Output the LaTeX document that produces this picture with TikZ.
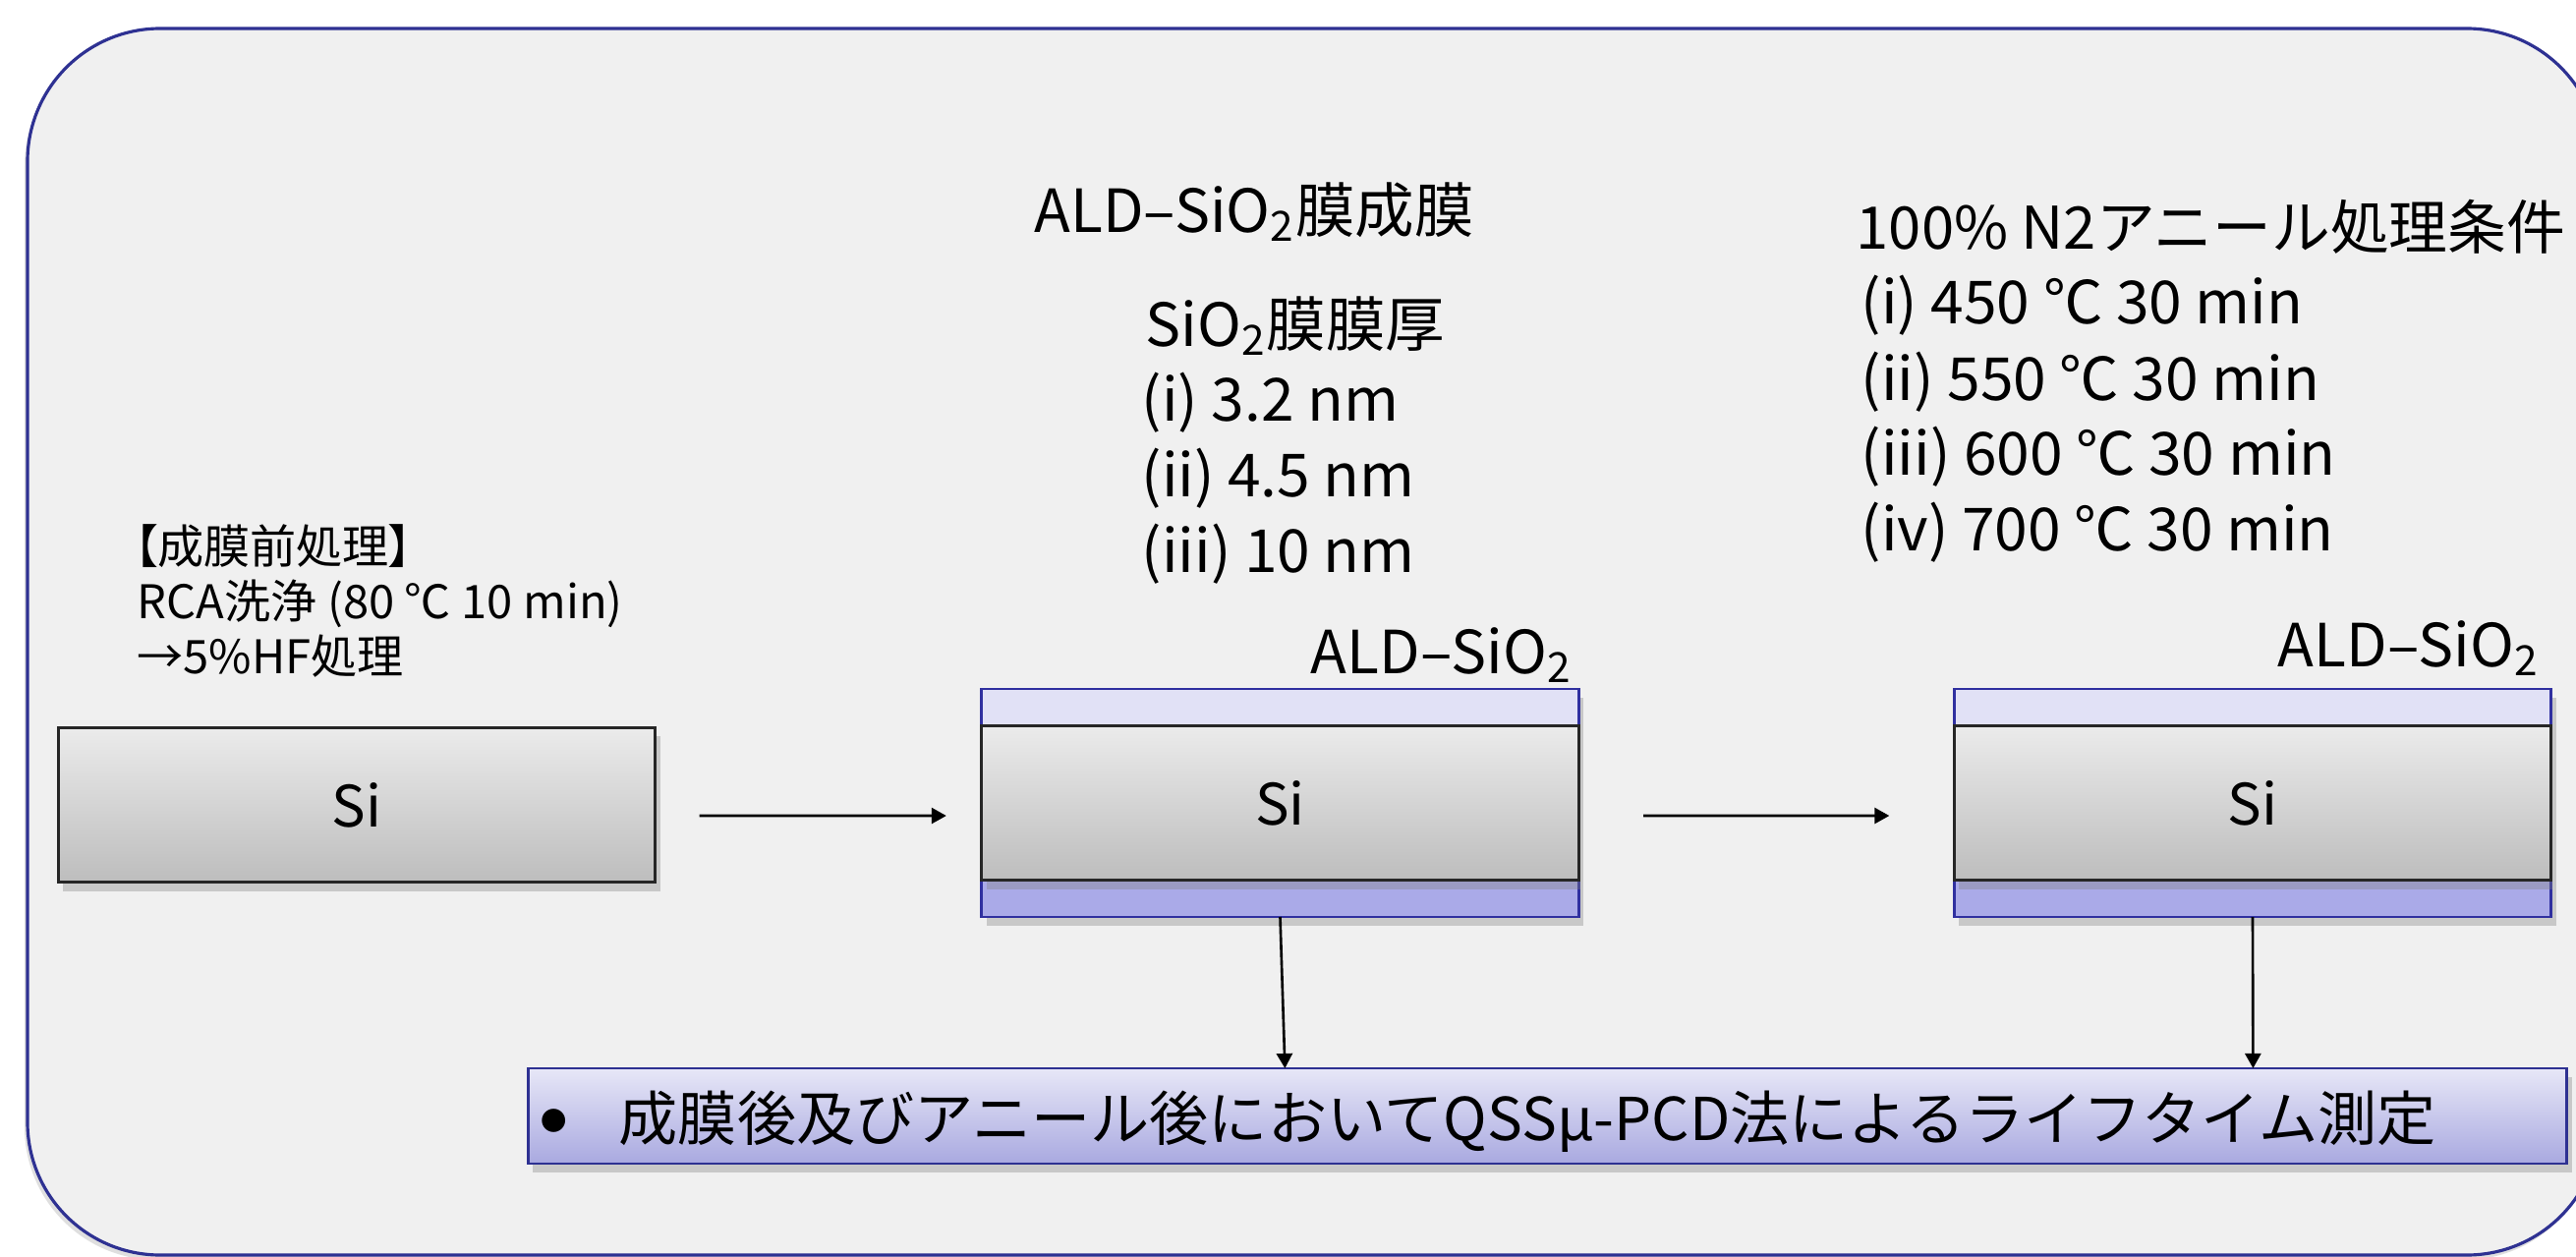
\documentclass[tikz,border=0pt]{standalone}
\usepackage{fontspec}
\setmainfont{Noto Sans CJK JP}
\usetikzlibrary{arrows.meta,shadows,calc}
\definecolor{framebg}{HTML}{F0F0F0}
\definecolor{frameline}{HTML}{2E3192}
\definecolor{oxtop}{HTML}{E1E1F6}
\definecolor{oxbot}{HTML}{AAAAE8}
\definecolor{oxline}{HTML}{3030A0}
\definecolor{sitop}{HTML}{EBEBEB}
\definecolor{sibot}{HTML}{BDBDBD}
\definecolor{boxtop}{HTML}{E7E7F7}
\definecolor{boxbot}{HTML}{A9A9E0}
\begin{document}
\begin{tikzpicture}[x=0.01cm,y=-0.01cm,
  softshadow/.style={drop shadow={shadow xshift=0.5mm,shadow yshift=-0.9mm,opacity=0.35}},
  sibox/.style={draw=black!85,line width=0.8pt,top color=sitop,bottom color=sibot,
    minimum width=6.07cm,minimum height=1.57cm,inner sep=0pt,outer sep=0pt,
    font=\fontsize{16.5}{20}\selectfont,softshadow},
  oxlayer/.style={draw=oxline,line width=0.8pt,minimum width=6.07cm,minimum height=0.37cm,
    inner sep=0pt,outer sep=0pt,softshadow},
  bigtxt/.style={anchor=base west,inner sep=0pt,font=\fontsize{17.2}{20}\selectfont},
  lbltxt/.style={anchor=base east,inner sep=0pt,font=\fontsize{17.2}{20}\selectfont},
  smalltxt/.style={anchor=base west,inner sep=0pt,font=\fontsize{13.4}{15}\selectfont},
  arr/.style={line width=0.75pt,-{Triangle[length=0.15cm,width=0.16cm]}}
]
% page
\fill[white] (0,0) rectangle (2621,1279);
\useasboundingbox (0,0) rectangle (2621,1279);
% main frame
\draw[frameline,fill=framebg,line width=0.9pt,rounded corners=1.35cm,
  drop shadow={shadow xshift=-0.3mm,shadow yshift=-0.5mm,opacity=0.25}]
  (28,29) rectangle (2645,1277);

% wafer 1
\node[sibox] (si1) at (363,819) {\raisebox{-0.5mm}{Si}};

% wafer 2
\node[oxlayer,fill=oxtop] (ox2t) at (1302.5,719.5) {};
\node[oxlayer,fill=oxbot] (ox2b) at (1302.5,914.5) {};
\node[sibox] (si2) at (1302.5,817) {\raisebox{-1.2mm}{Si}};
\node[lbltxt] (l2) at (1600,685) {ALD–SiO\textsubscript{2}};

% wafer 3
\node[oxlayer,fill=oxtop] (ox3t) at (2292,719.5) {};
\node[oxlayer,fill=oxbot] (ox3b) at (2292,914.5) {};
\node[sibox] (si3) at (2292,817) {\raisebox{-1.2mm}{Si}};
\node[lbltxt] (l3) at (2584,678) {ALD–SiO\textsubscript{2}};

% left text
\node[smalltxt] (p1) at (136,573) {\addfontfeatures{RawFeature=+palt}【成膜前処理】};
\node[smalltxt] (p2) at (139,629) {RCA洗浄 (80 ℃ 10 min)};
\node[smalltxt] (p3) at (139,685) {→5\%HF処理};

% middle text
\node[bigtxt] (m1) at (1052,236) {ALD–SiO\textsubscript{2}膜成膜};
\node[bigtxt] (m2) at (1165,352) {SiO\textsubscript{2}膜膜厚};
\node[bigtxt] (m3) at (1161,428) {(i) 3.2 nm};
\node[bigtxt] (m4) at (1161,505) {(ii) 4.5 nm};
\node[bigtxt] (m5) at (1161,582) {(iii) 10 nm};

% right text
\node[bigtxt,font=\fontsize{17}{20}\selectfont] (r1) at (1888,253) {100\% N2アニール処理条件};
\node[bigtxt] (r2) at (1893,330) {(i) 450 ℃ 30 min};
\node[bigtxt] (r3) at (1893,407) {(ii) 550 ℃ 30 min};
\node[bigtxt] (r4) at (1893,483) {(iii) 600 ℃ 30 min};
\node[bigtxt] (r5) at (1893,560) {(iv) 700 ℃ 30 min};

% bottom box
\node[draw=frameline,line width=0.8pt,top color=boxtop,bottom color=boxbot,
  minimum width=20.73cm,minimum height=0.97cm,inner sep=0pt,outer sep=0pt,softshadow]
  (meas) at (1574.5,1135.5) {};
\node[anchor=base west,inner sep=0pt,font=\fontsize{17.1}{20}\selectfont] (mtext) at (550,1160)
  {\makebox[0.79cm][l]{\raisebox{1mm}{\fontsize{7.5}{8}\selectfont ●}}成膜後及びアニール後においてQSSμ-PCD法によるライフタイム測定};

% arrows
\draw[arr] ($(si1.east)+(45,11)$) -- ($(ox2t.south west)+(-36,92)$);
\draw[arr] ($(si2.east)+(66,13)$) -- ($(ox3t.south west)+(-66,92)$);
\draw[arr] (ox2b.south) -- ($(meas.north west)+(770,0)$);
\draw[arr] (ox3b.south) -- ($(meas.north west)+(1755,0)$);
\end{tikzpicture}
\end{document}
